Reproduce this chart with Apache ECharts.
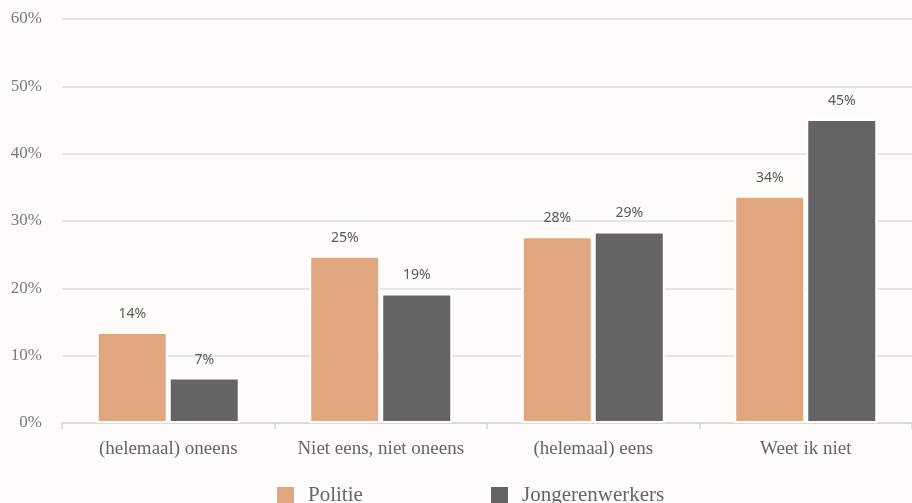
<!DOCTYPE html>
<html>
<head>
<meta charset="utf-8">
<script src="https://cdn.jsdelivr.net/npm/echarts@6/dist/echarts.min.js"></script>
<style>
  html, body { margin: 0; padding: 0; background: #fefbfa; }
  #chart { width: 912px; height: 503px; }
</style>
</head>
<body>
<div id="chart"></div>
<script>
const categories = ['(helemaal) oneens', 'Niet eens, niet oneens', '(helemaal) eens', 'Weet ik niet'];
const seriesNames = ['Politie', 'Jongerenwerkers'];
const politieValues = [13.5, 24.85, 27.75, 33.75];
const jongerenValues = [6.75, 19.25, 28.45, 45.15];
const politieLabels = ['14%', '25%', '28%', '34%'];
const jongerenLabels = ['7%', '19%', '29%', '45%'];
const yTicks = [0, 10, 20, 30, 40, 50, 60];

const serif = '"Liberation Serif", "DejaVu Serif", serif';
const sans = '"Noto Sans", "Open Sans", sans-serif';

const chart = echarts.init(document.getElementById('chart'));

function barSeries(name, values, labels, color) {
  return {
    name: name,
    type: 'bar',
    data: values,
    barWidth: 71,
    barGap: '1.4%',
    itemStyle: { color: color, borderColor: '#ffffff', borderWidth: 2 },
    label: {
      show: true,
      position: 'top',
      distance: 11,
      fontFamily: sans,
      fontSize: 14,
      color: '#5a5a5a',
      formatter: p => labels[p.dataIndex]
    }
  };
}

const legendCommon = {
  top: 480, itemWidth: 19, itemHeight: 19, icon: 'rect', itemGap: 0, padding: 5,
  textStyle: { fontFamily: serif, fontSize: 21, lineHeight: 19, color: '#666666', padding: [2, 0, 0, 8] }
};

chart.setOption({
  backgroundColor: '#fefbfa',
  animation: false,
  grid: { left: 62, top: 19, width: 855, height: 404, containLabel: false },
  legend: [
    Object.assign({ data: [seriesNames[0]], left: 270 }, legendCommon),
    Object.assign({ data: [seriesNames[1]], left: 484 }, legendCommon)
  ],
  xAxis: {
    type: 'category',
    data: categories,
    axisLine: { lineStyle: { color: '#d6d6d6', width: 1.5 } },
    axisTick: { show: true, interval: 0, length: 6, lineStyle: { color: '#d6d6d6', width: 1.5 } },
    axisLabel: { interval: 0, fontFamily: serif, fontSize: 19, color: '#666666', margin: 17 }
  },
  yAxis: {
    type: 'value',
    min: yTicks[0],
    max: yTicks[yTicks.length - 1],
    interval: 10,
    axisLine: { show: false },
    axisTick: { show: false },
    splitLine: { lineStyle: { color: '#dedede', width: 1.5 } },
    axisLabel: { fontFamily: serif, fontSize: 17, color: '#7a7a7a', margin: 20, formatter: v => v + '%' }
  },
  series: [
    barSeries(seriesNames[0], politieValues, politieLabels, '#e0a680'),
    barSeries(seriesNames[1], jongerenValues, jongerenLabels, '#646464')
  ]
});
</script>
</body>
</html>
